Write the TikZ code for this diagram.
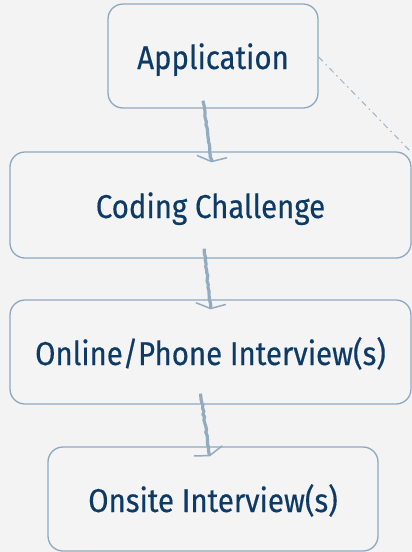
\documentclass[tikz,border=0pt]{standalone}
\usepackage{fontspec}
\newfontfamily\handfont[FakeStretch=0.89,FakeBold=0.4]{Fira Sans}
\usetikzlibrary{arrows.meta,decorations.pathmorphing}
\definecolor{bgcol}{HTML}{F3F3F3}
\definecolor{boxfill}{HTML}{F4F4F4}
\definecolor{boxline}{HTML}{8EA8C0}
\definecolor{txtcol}{HTML}{0E3A66}
\definecolor{arrcol}{HTML}{93ABC0}
\definecolor{linkcol}{HTML}{A5B2BE}
\tikzset{
  stage/.style={draw=boxline, fill=boxfill, line width=1.3pt, rounded corners=15pt,
    text=txtcol, font=\handfont\fontsize{33}{36}\selectfont, inner sep=0pt,
    text height=26pt, text depth=0pt},
  flowarrow/.style={draw=arrcol, line width=3.2pt,
    decorate, decoration={random steps, segment length=3pt, amplitude=0.7pt},
    -{Straight Barb[width=30pt,length=5pt,line width=1.5pt]}},
  linkline/.style={draw=linkcol, line width=1pt, dash pattern=on 6pt off 4pt on 1.5pt off 4pt}
}
\begin{document}
\begin{tikzpicture}[x=1pt,y=-1pt]
\fill[bgcol] (0,0) rectangle (412,552);
\useasboundingbox (0,0) rectangle (412,552);
\node[stage, minimum width=210pt, minimum height=104pt] (app) at (213,56) {Application};
\node[stage, minimum width=401pt, minimum height=106pt] (code) at (210.5,205) {Coding Challenge};
\node[stage, minimum width=401pt, minimum height=104pt] (phone) at (210.5,352) {Online/Phone Interview(s)};
\node[stage, minimum width=330pt, minimum height=104pt] (onsite) at (213,499) {Onsite Interview(s)};
\coordinate (offlink) at (412,153);
\draw[linkline] ([yshift=-1pt]app.east) -- (offlink);
\draw[flowarrow] ([xshift=-10pt,yshift=8pt]app.south) -- ([xshift=1pt,yshift=-11pt]code.north);
\draw[flowarrow] ([xshift=-6pt,yshift=10pt]code.south) -- ([xshift=0pt,yshift=-10pt]phone.north);
\draw[flowarrow] ([xshift=-10pt,yshift=11pt]phone.south) -- ([xshift=-3pt,yshift=-10pt]onsite.north);
\end{tikzpicture}
\end{document}
